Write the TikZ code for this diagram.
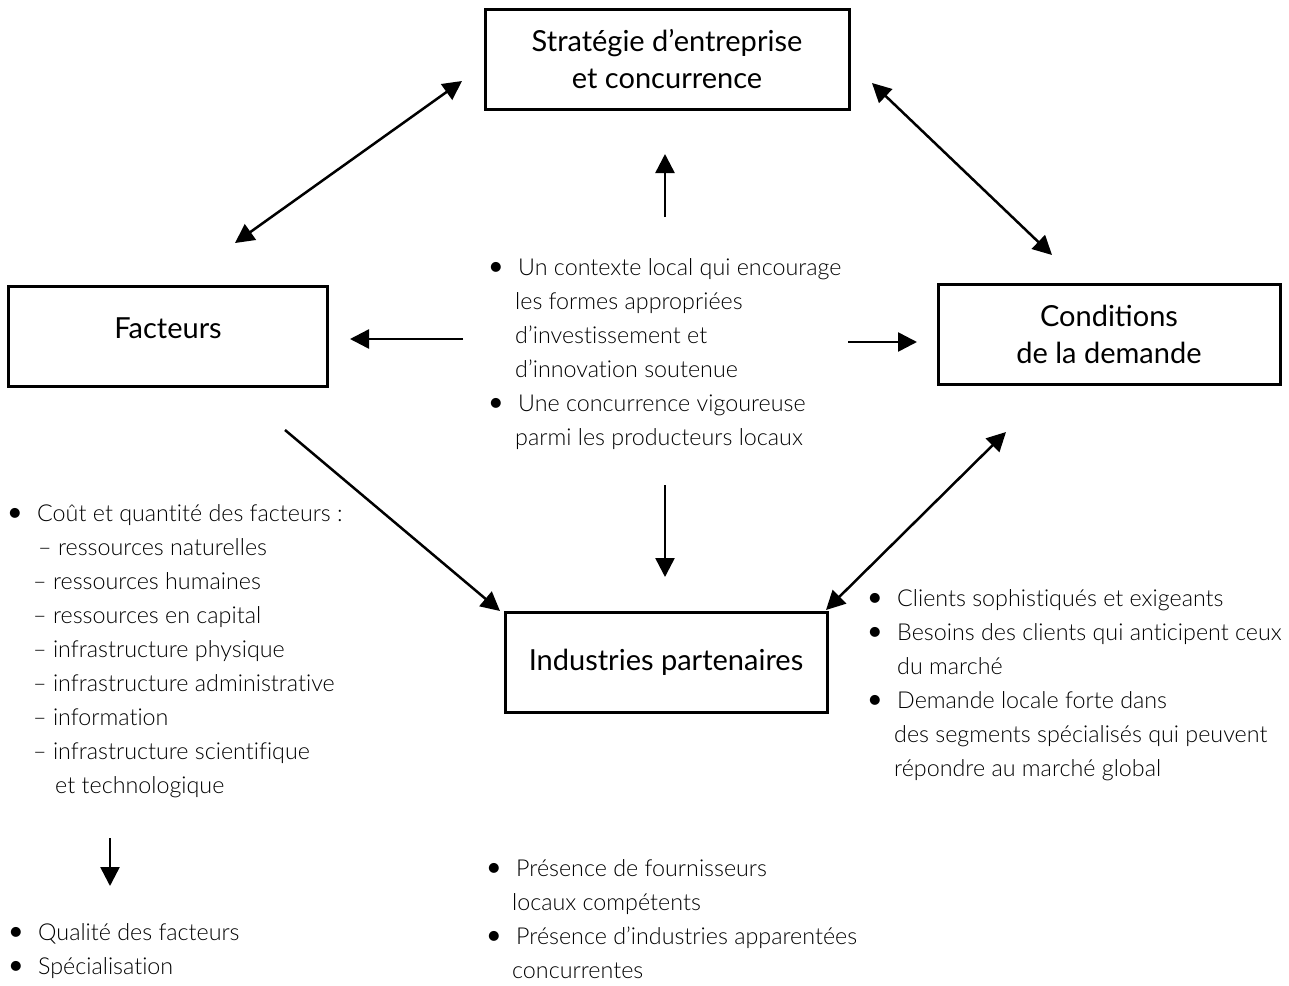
\documentclass[tikz,border=0pt]{standalone}
\usepackage{fontspec}
\setmainfont{Lato}
\IfFontExistsTF{Lato Light}{\newfontfamily\lightfont[Ligatures=NoCommon]{Lato Light}}{\newfontfamily\lightfont[Ligatures=NoCommon]{Lato}}
\usetikzlibrary{arrows.meta}
\newcommand{\bul}{\makebox[29pt][l]{\hspace*{-3pt}\raisebox{-2.5pt}{\scalebox{1.45}{\textbullet}}}}

\begin{document}
\begin{tikzpicture}[x=1pt, y=-1pt,
  box/.style = {draw, line width=3pt, minimum height=100pt, align=center,
    font=\fontsize{29}{37}\selectfont},
  listtext/.style = {anchor=base west, inner sep=0pt,
    font=\lightfont\fontsize{23.3}{34}\selectfont},
  onearrow/.style = {line width=2.5pt, -{Triangle[length=19pt,width=19pt]}},
  twoarrow/.style = {line width=2.5pt,
    {Triangle[length=19pt,width=19pt]}-{Triangle[length=19pt,width=19pt]}}]
  \useasboundingbox (0,0) rectangle (1289,985);

  % the four boxes
  \node[box, minimum width=364pt] (strat) at (667,59) {Stratégie d’entreprise\\ et concurrence};
  \node[box, minimum width=319pt, text depth=16pt] (fact) at (168,336) {Facteurs};
  \node[box, minimum width=342pt] (cond) at (1109,334) {Conditions\\ de la demande};
  \node[box, minimum width=322pt] (indus) at (666,662) {Industries partenaires};

  % texts
  \node[listtext] (ctx) at (489,275) {\begin{tabular}[t]{@{}l@{}l@{}}
    \bul & Un contexte local qui encourage\\
    & \hspace*{-3pt}les formes appropriées\\
    & \hspace*{-3pt}d’investissement et\\
    & \hspace*{-3pt}d’innovation soutenue\\
    \bul & Une concurrence vigoureuse\\
    & \hspace*{-3pt}parmi les producteurs locaux
  \end{tabular}};
  \node[listtext] (factlist) at (8,521) {\begin{tabular}[t]{@{}l@{}l@{}}
    \bul & Coût et quantité des facteurs :\\
    & \hspace*{1pt}– ressources naturelles\\
    & \hspace*{-4pt}– ressources humaines\\
    & \hspace*{-4pt}– ressources en capital\\
    & \hspace*{-4pt}– infrastructure physique\\
    & \hspace*{-4pt}– infrastructure administrative\\
    & \hspace*{-4pt}– information\\
    & \hspace*{-4pt}– infrastructure scientifique\\
    & \hspace*{18pt}et technologique
  \end{tabular}};
  \node[listtext] (qual) at (9,940) {\begin{tabular}[t]{@{}l@{}l@{}}
    \bul & Qualité des facteurs\\
    \bul & Spécialisation
  \end{tabular}};
  \node[listtext] (dem) at (868,606) {\begin{tabular}[t]{@{}l@{}l@{}}
    \bul & Clients sophistiqués et exigeants\\
    \bul & Besoins des clients qui anticipent ceux\\
    & du marché\\
    \bul & Demande locale forte dans\\
    & \hspace*{-3pt}des segments spécialisés qui peuvent\\
    & \hspace*{-3pt}répondre au marché global
  \end{tabular}};
  \node[listtext] (four) at (487,876) {\begin{tabular}[t]{@{}l@{}l@{}}
    \bul & Présence de fournisseurs\\
    & \hspace*{-4pt}locaux compétents\\
    \bul & Présence d’industries apparentées\\
    & \hspace*{-4pt}concurrentes
  \end{tabular}};

  % arrow ends
  \coordinate (fs) at (235,243);   \coordinate (sf) at (462,81);
  \coordinate (sc) at (872,83);    \coordinate (cs) at (1052,255);
  \coordinate (ci) at (1006,432);  \coordinate (ic) at (826,610);
  \coordinate (fi) at (285,430);   \coordinate (if) at (500,611);
  \coordinate (up0) at (665,217);  \coordinate (up1) at (665,154);
  \coordinate (le0) at (463,339);  \coordinate (le1) at (350,339);
  \coordinate (ri0) at (848,342);  \coordinate (ri1) at (917,342);
  \coordinate (dn0) at (665,485);  \coordinate (dn1) at (665,577);
  \coordinate (fq0) at (110,838);  \coordinate (fq1) at (110,886);

  \draw[twoarrow] (fs) -- (sf);
  \draw[twoarrow] (sc) -- (cs);
  \draw[twoarrow] (ci) -- (ic);
  \draw[onearrow] (fi) -- (if);
  \draw[onearrow] (up0) -- (up1);
  \draw[onearrow] (le0) -- (le1);
  \draw[onearrow] (ri0) -- (ri1);
  \draw[onearrow] (dn0) -- (dn1);
  \draw[onearrow] (fq0) -- (fq1);
\end{tikzpicture}
\end{document}
